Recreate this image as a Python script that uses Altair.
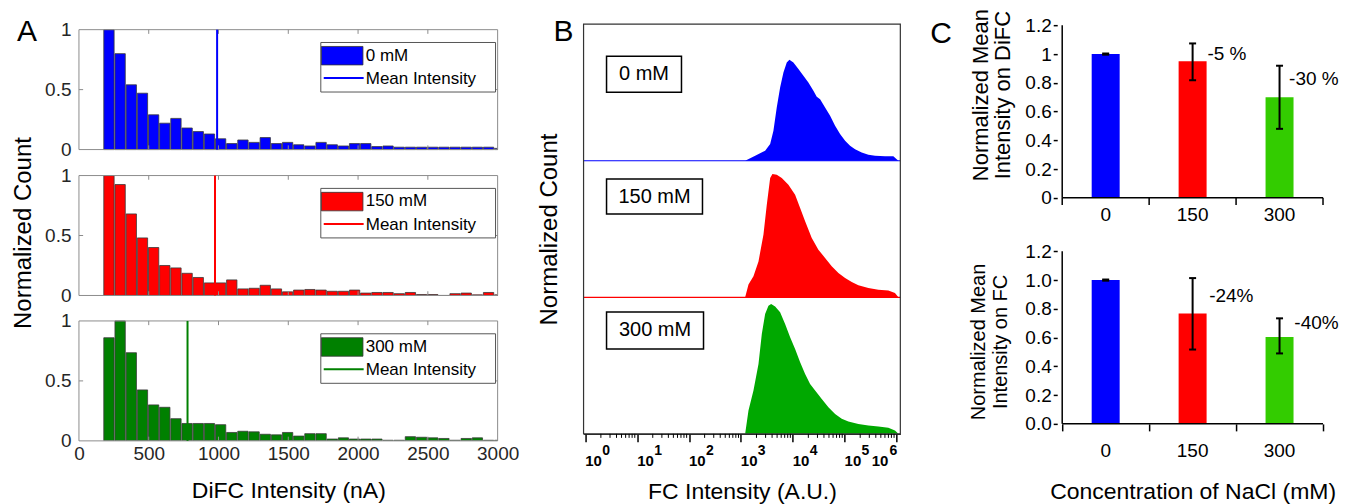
import altair as alt
import pandas as pd

FONT = "Liberation Sans"

# ======================= Panel A : DiFC histograms =======================
bin_starts = [175, 255, 335, 415, 495, 575, 655, 735, 815, 895,
              975, 1055, 1135, 1215, 1295, 1375, 1455, 1535, 1615, 1695,
              1775, 1855, 1935, 2015, 2095, 2175, 2255, 2335, 2415, 2495,
              2575, 2655, 2735, 2815, 2895, 2975]
BIN_WIDTH = 80
counts_0mM = [1.0, 0.80, 0.54, 0.47, 0.29, 0.22, 0.26, 0.18, 0.15, 0.13,
              0.09, 0.05, 0.08, 0.06, 0.10, 0.05, 0.06, 0.04, 0.03, 0.06,
              0.04, 0.03, 0.05, 0.05, 0.025, 0.03, 0.02, 0.02, 0.02, 0.02,
              0.02, 0.02, 0.02, 0.02, 0.02, 0.01]
counts_150mM = [1.0, 0.925, 0.68, 0.48, 0.40, 0.25, 0.23, 0.185, 0.15, 0.105,
                0.105, 0.13, 0.055, 0.06, 0.085, 0.055, 0.03, 0.045, 0.05, 0.045,
                0.035, 0.035, 0.045, 0.02, 0.025, 0.025, 0.015, 0.025, 0.008, 0.008,
                0.0, 0.015, 0.02, 0.005, 0.025, 0.005]
counts_300mM = [0.86, 1.0, 0.735, 0.425, 0.30, 0.28, 0.185, 0.145, 0.145, 0.145,
                0.135, 0.07, 0.08, 0.075, 0.055, 0.05, 0.07, 0.04, 0.06, 0.06,
                0.015, 0.025, 0.015, 0.015, 0.015, 0.005, 0.005, 0.035, 0.03, 0.025,
                0.02, 0.005, 0.02, 0.025, 0.005, 0.005]
mean_intensity = [990, 975, 778]
conc_labels = ["0 mM", "150 mM", "300 mM"]
colors_A = ["#0000FF", "#FF0000", "#008000"]
x_ticks_A = [0, 500, 1000, 1500, 2000, 2500, 3000]

# layout of panel A (one shared y scale holding three stacked sub-plots)
A_W, A_H = 419, 417
A_YMAX = 3.475
A_OFF = [2.4292, 1.2125, 0.0]
LEG = dict(lx0=1733, lx1=2985, ly0=0.48, ly1=0.893,
           sx0=1737, sx1=2035, sy0=0.706, sy1=0.86,
           nx0=1754, nx1=2040, ny=0.597, tx=2055, t1y=0.784, t2y=0.59)
TICK_LEN_Y, TICK_LEN_X = 0.035, 30

hist_rows = []
for lab, off, col, counts in zip(conc_labels, A_OFF, colors_A,
                                 [counts_0mM, counts_150mM, counts_300mM]):
    for s, c in zip(bin_starts, counts):
        hist_rows.append({"conc": lab, "col": col, "x0": s + 3, "x1": s + BIN_WIDTH - 3,
                          "y0": off, "y1": off + c})
hist_df = pd.DataFrame(hist_rows)

panel_rows = []
for lab, off, col, m in zip(conc_labels, A_OFF, colors_A, mean_intensity):
    panel_rows.append({
        "conc": lab, "col": col, "off": off, "top": off + 1, "mean": m, "fx0": 0, "fx1": 3000,
        "lx0": LEG["lx0"], "lx1": LEG["lx1"], "ly0": off + LEG["ly0"], "ly1": off + LEG["ly1"],
        "sx0": LEG["sx0"], "sx1": LEG["sx1"], "sy0": off + LEG["sy0"], "sy1": off + LEG["sy1"],
        "nx0": LEG["nx0"], "nx1": LEG["nx1"], "ny": off + LEG["ny"],
        "tx": LEG["tx"], "t1y": off + LEG["t1y"], "t2y": off + LEG["t2y"],
    })
panel_df = pd.DataFrame(panel_rows)

# small inward frame ticks (MATLAB style)
ftick_rows = []
for off in A_OFF:
    for xv in x_ticks_A[1:-1]:
        ftick_rows.append({"x0": xv, "x1": xv, "y0": off, "y1": off + TICK_LEN_Y})
        ftick_rows.append({"x0": xv, "x1": xv, "y0": off + 1, "y1": off + 1 - TICK_LEN_Y})
    ftick_rows.append({"x0": 0, "x1": TICK_LEN_X, "y0": off + 0.5, "y1": off + 0.5})
    ftick_rows.append({"x0": 3000 - TICK_LEN_X, "x1": 3000, "y0": off + 0.5, "y1": off + 0.5})
ftick_df = pd.DataFrame(ftick_rows)

y_ticks_A = [round(o + v, 4) for o in A_OFF for v in (0, 0.5, 1)]
labelexpr_A = (f"format(datum.value - (datum.value > {A_OFF[0] - 0.1} ? {A_OFF[0]} : "
               f"(datum.value > {A_OFF[1] - 0.1} ? {A_OFF[1]} : 0)), '~g')")

xA = alt.Scale(domain=[0, 3000], nice=False, zero=False)
yA = alt.Scale(domain=[0, A_YMAX], nice=False, zero=False)
colA = alt.Color("col:N", scale=None, legend=None)

axA_x = alt.Axis(values=x_ticks_A, format="d", labelOverlap=False, labelFlush=False,
                 title="DiFC Intensity (nA)", domain=False, ticks=False,
                 grid=False, labelPadding=4, labelFontSize=19, labelColor="#262626",
                 titleFontSize=23, titlePadding=16)
axA_y = alt.Axis(values=y_ticks_A, labelExpr=labelexpr_A, labelOverlap=False,
                 title="Normalized Count",
                 domain=False, ticks=False, grid=False, labelPadding=8, labelFontSize=19,
                 labelColor="#262626", titleFontSize=24, titlePadding=9)


def XA(f):
    return alt.X(f, scale=xA, axis=axA_x, title="DiFC Intensity (nA)")


def YA(f):
    return alt.Y(f, scale=yA, axis=axA_y, title="Normalized Count", stack=None)


baseA = alt.Chart(panel_df)
a_frames = baseA.mark_rect(fillOpacity=0, stroke="#8c8c8c", strokeWidth=1).encode(
    x=XA("fx0:Q"), x2="fx1:Q", y=YA("off:Q"), y2="top:Q")
a_fticks = alt.Chart(ftick_df).mark_rule(color="#8c8c8c", strokeWidth=1).encode(
    x=XA("x0:Q"), x2="x1:Q", y=YA("y0:Q"), y2="y1:Q")
a_bars = alt.Chart(hist_df).mark_bar(clip=True, stroke="#3a3a3a", strokeWidth=0.8).encode(
    x=XA("x0:Q"), x2="x1:Q", y=YA("y0:Q"), y2="y1:Q", color=colA)
a_means = baseA.mark_rule(strokeWidth=2).encode(
    x=XA("mean:Q"), y=YA("off:Q"), y2="top:Q", color=colA)
a_legbox = baseA.mark_rect(fill="white", stroke="#555555", strokeWidth=1).encode(
    x=XA("lx0:Q"), x2="lx1:Q", y=YA("ly0:Q"), y2="ly1:Q")
a_legsw = baseA.mark_rect(stroke="#333333", strokeWidth=0.8).encode(
    x=XA("sx0:Q"), x2="sx1:Q", y=YA("sy0:Q"), y2="sy1:Q", color=colA)
a_legln = baseA.mark_rule(strokeWidth=2).encode(
    x=XA("nx0:Q"), x2="nx1:Q", y=YA("ny:Q"), color=colA)
a_legt1 = baseA.mark_text(align="left", baseline="middle", fontSize=17, color="black").encode(
    x=XA("tx:Q"), y=YA("t1y:Q"), text="conc:N")
a_legt2 = baseA.mark_text(align="left", baseline="middle", fontSize=17, color="black").encode(
    x=XA("tx:Q"), y=YA("t2y:Q"), text=alt.value("Mean Intensity"))
a_letter = alt.Chart(pd.DataFrame({"t": ["A"]})).mark_text(
    align="left", baseline="alphabetic", fontSize=30, color="black").encode(
    x=alt.value(-62), y=alt.value(17), text="t:N")

chartA = alt.layer(a_bars, a_frames, a_fticks, a_means, a_legbox, a_legsw, a_legln,
                   a_legt1, a_legt2, a_letter).properties(width=A_W, height=A_H)

# ======================= Panel B : FC histograms (log x) =======================
fc_exp_0mM = [3.083, 3.276, 3.468, 3.565, 3.628, 3.692, 3.757, 3.821, 3.885, 3.936,
              4.013, 4.11, 4.206, 4.302, 4.399, 4.463, 4.528, 4.624, 4.721, 4.817,
              4.913, 5.01, 5.106, 5.202, 5.33, 5.459, 5.588, 5.78, 5.94, 6.037]
fc_cnt_0mM = [0, 0.037, 0.073, 0.122, 0.22, 0.39, 0.537, 0.646, 0.72, 0.739,
              0.72, 0.671, 0.622, 0.573, 0.512, 0.468, 0.451, 0.39, 0.329, 0.256,
              0.195, 0.146, 0.11, 0.085, 0.061, 0.044, 0.037, 0.032, 0.032, 0]
fc_exp_150mM = [3.083, 3.147, 3.243, 3.34, 3.436, 3.5, 3.565, 3.609, 3.692, 3.789,
                3.917, 4.046, 4.143, 4.239, 4.367, 4.495, 4.624, 4.752, 4.881, 5.01,
                5.138, 5.266, 5.459, 5.651, 5.844, 5.972, 6.037]
fc_cnt_150mM = [0, 0.093, 0.154, 0.263, 0.459, 0.678, 0.873, 0.902, 0.898, 0.873,
                0.824, 0.751, 0.654, 0.556, 0.434, 0.349, 0.288, 0.227, 0.178, 0.141,
                0.112, 0.088, 0.068, 0.056, 0.049, 0.032, 0]
fc_exp_300mM = [3.083, 3.147, 3.243, 3.34, 3.404, 3.468, 3.532, 3.584, 3.661, 3.757,
                3.853, 3.95, 4.046, 4.143, 4.239, 4.335, 4.432, 4.56, 4.688, 4.817,
                4.945, 5.073, 5.266, 5.459, 5.651, 5.844, 5.972, 6.037]
fc_cnt_300mM = [0, 0.171, 0.317, 0.512, 0.732, 0.878, 0.939, 0.951, 0.932, 0.89,
                0.805, 0.707, 0.622, 0.524, 0.439, 0.366, 0.317, 0.256, 0.195, 0.146,
                0.11, 0.09, 0.073, 0.061, 0.054, 0.044, 0.024, 0]
colors_B = ["#0000FF", "#FF0000", "#00A800"]
fc_major = [1, 10, 100, 1000, 10000, 100000, 1000000]
fc_exponent = ["0", "1", "2", "3", "4", "5", "6"]
fc_minor = [m * 10 ** k for k in range(6) for m in range(2, 10)]

B_W, B_H = 317, 410
B_DOMAIN = [10 ** -0.033, 10 ** 6.075]
B_OFF = [2, 1, 0]
box_x0_exp = [0.41, 0.41, 0.41]
box_x1_exp = [1.855, 2.26, 2.28]
box_y0 = [0.502, 0.61, 0.622]
box_y1 = [0.766, 0.866, 0.893]
box_tx_exp = [1.133, 1.335, 1.345]
box_ty = [0.634, 0.738, 0.757]

b_rows = []
for lab, off, col, exps, cnts in zip(conc_labels, B_OFF, colors_B,
                                     [fc_exp_0mM, fc_exp_150mM, fc_exp_300mM],
                                     [fc_cnt_0mM, fc_cnt_150mM, fc_cnt_300mM]):
    for e, h in zip(exps, cnts):
        b_rows.append({"conc": lab, "col": col, "fc": 10 ** e, "y0": off, "y1": off + h})
b_df = pd.DataFrame(b_rows)

b_sec_rows = []
for i, (lab, off, col) in enumerate(zip(conc_labels, B_OFF, colors_B)):
    b_sec_rows.append({"conc": lab, "col": col, "off": off, "bx0": B_DOMAIN[0], "bx1": B_DOMAIN[1],
                       "rx0": 10 ** box_x0_exp[i], "rx1": 10 ** box_x1_exp[i],
                       "ry0": off + box_y0[i], "ry1": off + box_y1[i],
                       "tx": 10 ** box_tx_exp[i], "ty": off + box_ty[i]})
b_sec_df = pd.DataFrame(b_sec_rows)
b_major_df = pd.DataFrame({"v": fc_major, "e": fc_exponent})

xB = alt.Scale(type="log", domain=B_DOMAIN, nice=False)
yB = alt.Scale(domain=[0, 3], nice=False, zero=False)
colB = alt.Color("col:N", scale=None, legend=None)

axB_x = alt.Axis(values=fc_major, labels=False, tickSize=8, tickWidth=1.5, tickColor="black",
                 domain=True, domainColor="black", grid=False, title="FC Intensity (A.U.)",
                 titleFontSize=23, titlePadding=38)
axB_y = alt.Axis(labels=False, ticks=False, domain=False, grid=False,
                 title="Normalized Count", titleFontSize=24, titlePadding=22)


def XB(f):
    return alt.X(f, scale=xB, axis=axB_x, title="FC Intensity (A.U.)")


def YB(f):
    return alt.Y(f, scale=yB, axis=axB_y, title="Normalized Count", stack=None)


b_baselines = alt.Chart(b_sec_df).transform_filter("datum.off > 0").mark_rule(strokeWidth=1.2).encode(
    x=XB("bx0:Q"), x2="bx1:Q", y=YB("off:Q"), color=colB)
b_areas = alt.Chart(b_df).mark_area(opacity=1).encode(
    x=XB("fc:Q"), y=YB("y1:Q"), y2="y0:Q", color=colB, detail="conc:N")
b_boxes = alt.Chart(b_sec_df).mark_rect(fill="white", stroke="black", strokeWidth=1.5).encode(
    x=XB("rx0:Q"), x2="rx1:Q", y=YB("ry0:Q"), y2="ry1:Q")
b_boxtext = alt.Chart(b_sec_df).mark_text(fontSize=20, align="center", baseline="middle",
                                          color="black").encode(
    x=XB("tx:Q"), y=YB("ty:Q"), text="conc:N")
b_frame = alt.Chart(pd.DataFrame({"k": [0]})).mark_rect(
    fillOpacity=0, stroke="#333333", strokeWidth=1.2).encode(
    x=alt.value(0), x2=alt.value(B_W), y=alt.value(0), y2=alt.value(B_H))
b_minor = alt.Chart(pd.DataFrame({"v": fc_minor})).mark_rule(color="black", strokeWidth=1).encode(
    x=XB("v:Q"), y=alt.value(B_H), y2=alt.value(B_H + 4))
b_ten = alt.Chart(b_major_df).transform_filter("datum.v < 1000000").mark_text(
    align="left", baseline="middle", fontSize=15, fontWeight="bold", color="black").encode(
    x=XB("v:Q"), y=alt.value(B_H + 27), text=alt.value("10"))
b_ten_last = alt.Chart(b_major_df).transform_filter("datum.v >= 1000000").mark_text(
    align="right", dx=-8, baseline="middle", fontSize=15, fontWeight="bold", color="black").encode(
    x=XB("v:Q"), y=alt.value(B_H + 27), text=alt.value("10"))
b_exp = alt.Chart(b_major_df).transform_filter("datum.v < 1000000").mark_text(
    align="left", dx=17, baseline="middle", fontSize=14, fontWeight="bold", color="black").encode(
    x=XB("v:Q"), y=alt.value(B_H + 17), text="e:N")
b_exp_last = alt.Chart(b_major_df).transform_filter("datum.v >= 1000000").mark_text(
    align="left", dx=-7, baseline="middle", fontSize=14, fontWeight="bold", color="black").encode(
    x=XB("v:Q"), y=alt.value(B_H + 17), text="e:N")
b_letter = alt.Chart(pd.DataFrame({"t": ["B"]})).mark_text(
    align="left", baseline="alphabetic", fontSize=30, color="black").encode(
    x=alt.value(-30), y=alt.value(17), text="t:N")

chartB = alt.layer(b_areas, b_baselines, b_boxes, b_boxtext, b_frame, b_minor,
                   b_ten, b_ten_last, b_exp, b_exp_last, b_letter).properties(width=B_W, height=B_H)

# ======================= Panel C : normalized mean intensity bars =======================
c_conc = ["0", "150", "300"]
c_idx = [0, 1, 2]
difc_mean = [1.0, 0.95, 0.70]
difc_lo = [0.996, 0.818, 0.48]
difc_hi = [1.004, 1.074, 0.919]
fc_mean = [1.0, 0.768, 0.605]
fc_lo = [0.996, 0.517, 0.49]
fc_hi = [1.004, 1.014, 0.734]
colors_C = ["#0000FF", "#FF0000", "#33CC00"]
difc_note = ["-5 %", "-30 %"]
difc_note_x = [1.17, 2.11]
difc_note_y = [1.003, 0.83]
fc_note = ["-24%", "-40%"]
fc_note_x = [1.19, 2.17]
fc_note_y = [0.886, 0.70]
c_y_vals = [0, 0.2, 0.4, 0.6, 0.8, 1.0, 1.2]

C_W, C_H = 345, 400
C_SHIFT, C_PLOT_W = 71, 271
C_YMAX = 2.78
C_OFF = [1.572, 0.0]   # upper (DiFC) and lower (FC) sub-plots

c_rows = []
for off, means, los, his in [(C_OFF[0], difc_mean, difc_lo, difc_hi),
                             (C_OFF[1], fc_mean, fc_lo, fc_hi)]:
    for i, lab, col, m, lo, hi in zip(c_idx, c_conc, colors_C, means, los, his):
        c_rows.append({"idx": i, "conc": lab, "col": col, "base": off, "top": off + m,
                       "lo": off + lo, "hi": off + hi, "sec": "top" if off > 0 else "bottom"})
c_df = pd.DataFrame(c_rows)
c_axes_df = pd.DataFrame({"off": C_OFF, "top": [o + 1.2 for o in C_OFF],
                          "xl": [-0.5, -0.5], "xr": [2.5, 2.5]})
c_tick_df = pd.DataFrame({"v": [-0.5, 0.5, 1.5, 2.5], "y0": [C_OFF[0]] * 4,
                          "y1": [C_OFF[0] - 0.05] * 4})
c_notes_df = pd.DataFrame({"t": difc_note + fc_note, "x": difc_note_x + fc_note_x,
                           "y": [C_OFF[0] + v for v in difc_note_y] + [C_OFF[1] + v for v in fc_note_y]})

c_y_ticks = [round(o + v, 4) for o in C_OFF for v in c_y_vals]
labelexpr_C = (f"datum.value > {C_OFF[0] - 0.1} ? format(datum.value - {C_OFF[0]}, '~g') : "
               f"format(datum.value, '.1f')")

xC = alt.Scale(domain=[-0.5, 2.5], range=[C_SHIFT, C_SHIFT + C_PLOT_W], nice=False, zero=False)
yC = alt.Scale(domain=[0, C_YMAX], nice=False, zero=False)
colC = alt.Color("col:N", scale=None, legend=None)

axC_x = alt.Axis(values=[-0.5, 0.5, 1.5, 2.5], labels=False, domain=False, tickSize=7,
                 tickWidth=1.5, tickColor="black", grid=False,
                 title="Concentration of NaCl (mM)", titleFontSize=23, titlePadding=49)
axC_y = alt.Axis(values=c_y_ticks, labelExpr=labelexpr_C, labelOverlap=False, offset=-C_SHIFT,
                 domain=False, tickSize=4, tickWidth=1.5, tickColor="black", labelPadding=2,
                 labelFontSize=19, labelColor="black", grid=False, title=None)


def XC(f):
    return alt.X(f, scale=xC, axis=axC_x, title="Concentration of NaCl (mM)")


def YC(f):
    return alt.Y(f, scale=yC, axis=axC_y, title=None, stack=None)


c_bars = alt.Chart(c_df).mark_bar(size=28).encode(
    x=XC("idx:Q"), y=YC("top:Q"), y2="base:Q", color=colC)
c_err = alt.Chart(c_df).mark_rule(color="black", strokeWidth=2).encode(
    x=XC("idx:Q"), y=YC("lo:Q"), y2="hi:Q")
c_cap_hi = alt.Chart(c_df).mark_tick(orient="horizontal", size=7, thickness=2, color="black",
                                     opacity=1).encode(x=XC("idx:Q"), y=YC("hi:Q"))
c_cap_lo = alt.Chart(c_df).mark_tick(orient="horizontal", size=7, thickness=2, color="black",
                                     opacity=1).encode(x=XC("idx:Q"), y=YC("lo:Q"))
c_vlines = alt.Chart(c_axes_df).mark_rule(color="black", strokeWidth=1.5).encode(
    x=XC("xl:Q"), y=YC("off:Q"), y2="top:Q")
c_hlines = alt.Chart(c_axes_df).mark_rule(color="black", strokeWidth=1.5).encode(
    x=XC("xl:Q"), x2="xr:Q", y=YC("off:Q"))
c_ticks_top = alt.Chart(c_tick_df).mark_rule(color="black", strokeWidth=1.5).encode(
    x=XC("v:Q"), y=YC("y0:Q"), y2="y1:Q")
c_cat_top = alt.Chart(c_df).transform_filter("datum.sec == 'top'").mark_text(
    baseline="middle", fontSize=19, color="black", dy=17).encode(
    x=XC("idx:Q"), y=YC("base:Q"), text="conc:N")
c_cat_bot = alt.Chart(c_df).transform_filter("datum.sec == 'bottom'").mark_text(
    baseline="middle", fontSize=19, color="black", dy=27).encode(
    x=XC("idx:Q"), y=YC("base:Q"), text="conc:N")
c_notes = alt.Chart(c_notes_df).mark_text(align="left", baseline="middle", fontSize=19,
                                          color="black").encode(
    x=XC("x:Q"), y=YC("y:Q"), text="t:N")
c_title_top = alt.Chart(pd.DataFrame({"k": [0]})).mark_text(
    angle=270, align="center", baseline="middle", fontSize=22, lineHeight=22, color="black",
    lineBreak="\n").encode(
    x=alt.value(-5), y=alt.value(71), text=alt.value("Normalized Mean\nIntensity on DiFC"))
c_title_bot = alt.Chart(pd.DataFrame({"k": [0]})).mark_text(
    angle=270, align="center", baseline="middle", fontSize=20, lineHeight=22, color="black",
    lineBreak="\n").encode(
    x=alt.value(-7), y=alt.value(318), text=alt.value("Normalized Mean\nIntensity on FC"))
c_letter = alt.Chart(pd.DataFrame({"t": ["C"]})).mark_text(
    align="left", baseline="alphabetic", fontSize=30, color="black").encode(
    x=alt.value(-56), y=alt.value(19), text="t:N")

chartC = alt.layer(c_bars, c_err, c_cap_hi, c_cap_lo, c_vlines, c_hlines, c_ticks_top,
                   c_cat_top, c_cat_bot, c_notes, c_title_top, c_title_bot,
                   c_letter).properties(width=C_W, height=C_H)

chart = alt.hconcat(chartA, chartB, chartC, spacing=86, bounds="flush").properties(
    padding={"left": 3, "top": 0, "right": 0, "bottom": 0}
).configure(font=FONT).configure_view(stroke=None).configure_axis(
    labelFont=FONT, titleFont=FONT, titleFontWeight="normal", titleColor="black", grid=False
)

chart.save("out.html", embed_options={"renderer": "svg", "actions": False})
